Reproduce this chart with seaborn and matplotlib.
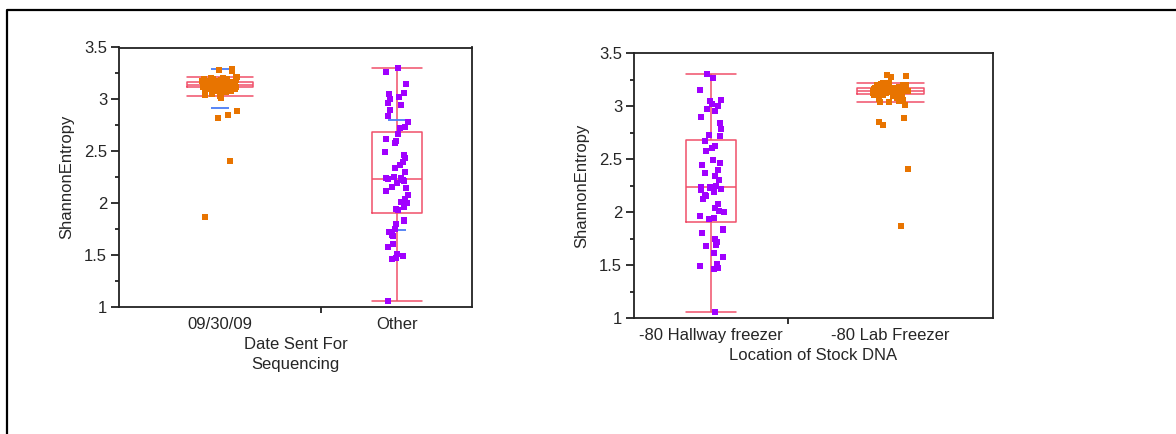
import numpy as np
import pandas as pd
import matplotlib
matplotlib.use("Agg")
import matplotlib.pyplot as plt
from matplotlib.ticker import FixedLocator, FuncFormatter, MultipleLocator
from matplotlib.lines import Line2D
import seaborn as sns

# --- Data ---
# samples sent 09/30/09 == samples kept in the -80 lab freezer
lab_entropy = [
    1.87, 2.41, 2.82, 2.85, 2.89, 3.01, 3.035, 3.04, 3.05, 3.06, 3.07, 3.08,
    3.08, 3.09, 3.09, 3.10, 3.10, 3.11,
    3.12, 3.12, 3.12, 3.12, 3.13, 3.13, 3.13, 3.13, 3.13, 3.13, 3.14, 3.14,
    3.14, 3.14, 3.14, 3.14, 3.14, 3.14,
    3.15, 3.15, 3.15, 3.15, 3.15, 3.16, 3.16, 3.16, 3.16, 3.16, 3.16, 3.17,
    3.17, 3.17, 3.17, 3.17, 3.17,
    3.17, 3.18, 3.18, 3.18, 3.18, 3.19, 3.19, 3.19, 3.20, 3.20, 3.20, 3.21,
    3.21, 3.22, 3.22, 3.27, 3.28, 3.29,
]
# samples sent on other dates == samples kept in the -80 hallway freezer
hallway_entropy = [
    1.06, 1.46, 1.47, 1.49, 1.51, 1.58, 1.61, 1.68, 1.69, 1.72, 1.75, 1.80,
    1.83, 1.84,
    1.93, 1.94, 1.96, 2.00, 2.01, 2.04, 2.08, 2.12, 2.15, 2.16, 2.19, 2.21,
    2.22, 2.23,
    2.24, 2.24, 2.25, 2.30, 2.34, 2.37, 2.40, 2.44, 2.46, 2.49, 2.58, 2.60,
    2.62, 2.67,
    2.72, 2.73, 2.78, 2.84, 2.90, 2.95, 2.97, 3.00, 3.02, 3.05, 3.06, 3.15,
    3.26, 3.30,
]

date_order = ["09/30/09", "Other"]
location_order = ["-80 Hallway freezer", "-80 Lab Freezer"]

df = pd.concat([
    pd.DataFrame({"entropy": lab_entropy, "group": "lab",
                  "date": "09/30/09", "location": "-80 Lab Freezer"}),
    pd.DataFrame({"entropy": hallway_entropy, "group": "hallway",
                  "date": "Other", "location": "-80 Hallway freezer"}),
], ignore_index=True)

# --- Style ---
sns.set_theme(style="ticks")
plt.rcParams["font.family"] = ["Liberation Sans", "DejaVu Sans"]
plt.rcParams["font.size"] = 12

RED = "#F0506A"
BLUE = "#4A7CF5"
AXIS = "#222222"
point_color = {"lab": "#E87400", "hallway": "#A000FF"}
box_width = {"lab": 0.375, "hallway": 0.28}


def draw_panel(ax, cat_col, order, jitter, xlim, mid_tick, xlabel, show_sd):
    for grp in ["lab", "hallway"]:
        sub = df[df["group"] == grp]
        sns.boxplot(data=sub, x=cat_col, y="entropy", order=order,
                    width=box_width[grp], fill=False, color=RED,
                    linewidth=1.1, showfliers=False, whis=1.5,
                    capwidths=box_width[grp], ax=ax)

    # mean +/- SD markers
    if show_sd:
        stats = df.groupby(cat_col)["entropy"].agg(["mean", "std"])
        for i, cat in enumerate(order):
            m, s = stats.loc[cat, "mean"], stats.loc[cat, "std"]
            ax.hlines([m - s, m + s], i - 0.05, i + 0.05, color=BLUE,
                      linewidth=1.3, zorder=2)

    for grp in ["lab", "hallway"]:
        sub = df[df["group"] == grp]
        sns.stripplot(data=sub, x=cat_col, y="entropy", order=order,
                      color=point_color[grp], marker="s", size=4.5,
                      linewidth=0, jitter=jitter[grp], zorder=3, ax=ax)

    ax.set_xlim(*xlim)
    ax.set_ylim(1, 3.5)
    ax.yaxis.set_major_locator(MultipleLocator(0.5))
    ax.yaxis.set_minor_locator(MultipleLocator(0.25))
    ax.yaxis.set_major_formatter(FuncFormatter(lambda v, p: f"{v:g}"))
    ax.set_xticks([0, 1], labels=order)
    ax.xaxis.set_minor_locator(FixedLocator([mid_tick]))

    ax.tick_params(axis="x", which="major", length=0, pad=7, labelsize=12)
    ax.tick_params(axis="x", which="minor", length=4.5, width=1.3,
                   color=AXIS, direction="out")
    ax.tick_params(axis="y", which="major", length=6, width=1.3, pad=2.5,
                   color=AXIS, labelsize=12)
    ax.tick_params(axis="y", which="minor", length=2.6, width=1.3,
                   color=AXIS)
    for sp in ax.spines.values():
        sp.set_visible(True)
        sp.set_color(AXIS)
        sp.set_linewidth(1.3)

    ax.set_xlabel(xlabel, fontsize=12, labelpad=4, linespacing=1.4)
    ax.set_ylabel("ShannonEntropy", fontsize=12, labelpad=7)


fig = plt.figure(figsize=(11.76, 4.34), dpi=100)
ax1 = fig.add_axes([119 / 1176, 1 - 307 / 434, 353 / 1176, 259.5 / 434])
ax2 = fig.add_axes([634 / 1176, 1 - 318 / 434, 359 / 1176, 265 / 434])

np.random.seed(7)
draw_panel(ax1, "date", date_order, {"lab": 0.1, "hallway": 0.07},
           (-0.571, 1.423), 0.571, "Date Sent For\nSequencing", True)
draw_panel(ax2, "location", location_order, {"lab": 0.1, "hallway": 0.07},
           (-0.431, 1.57), 0.429, "Location of Stock DNA", False)

# outer frame of the original page (only left and top edges visible)
fig.add_artist(Line2D([7 / 1176, 7 / 1176, 1], [0, 1 - 10 / 434, 1 - 10 / 434],
                      transform=fig.transFigure, color="black", linewidth=1.6))

fig.savefig("out.png", dpi=100)
